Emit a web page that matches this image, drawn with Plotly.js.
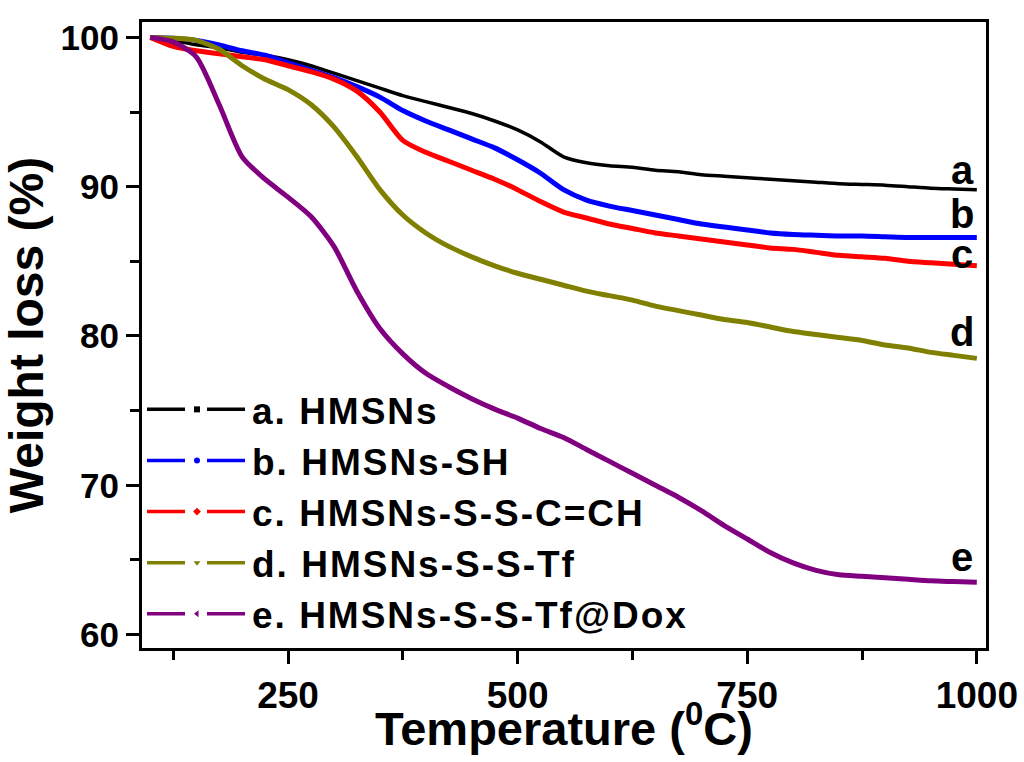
<!DOCTYPE html>
<html>
<head>
<meta charset="utf-8">
<script src="https://cdn.plot.ly/plotly-3.0.1.min.js"></script>
<style>
  html, body { margin: 0; padding: 0; background: #ffffff; }
  #chart { width: 1024px; height: 762px; }
  /* slightly wider legend lettering; keep the widened text unclipped */
  #chart .legendtext { letter-spacing: 2px; }
  #chart g.legend g.scrollbox { clip-path: none !important; }
</style>
</head>
<body>
<div id="chart"></div>
<script>
// TGA curves: temperature (°C) vs remaining weight (%)
const temperature = [100,125,150,175,200,225,250,275,300,325,350,375,400,425,450,475,500,525,550,575,600,625,650,675,700,725,750,775,800,825,850,875,900,925,950,975,1000];

const hmsns = [100.0,99.8,99.5,99.3,99.0,98.8,98.5,98.1,97.6,97.1,96.6,96.1,95.7,95.3,94.9,94.4,93.8,93.0,92.0,91.6,91.4,91.3,91.1,91.0,90.8,90.7,90.6,90.5,90.4,90.3,90.2,90.15,90.1,90.0,89.9,89.85,89.8];
const hmsnsSH = [100.0,99.95,99.8,99.5,99.1,98.8,98.3,97.8,97.3,96.7,96.0,95.1,94.4,93.8,93.2,92.6,91.8,90.9,89.8,89.1,88.7,88.4,88.1,87.8,87.5,87.3,87.1,86.9,86.8,86.75,86.7,86.7,86.65,86.6,86.6,86.6,86.6];
const hmsnsSSC = [100.0,99.4,99.1,98.9,98.7,98.5,98.1,97.7,97.2,96.4,95.0,93.1,92.3,91.7,91.1,90.5,89.8,89.0,88.3,87.9,87.5,87.2,86.9,86.7,86.5,86.3,86.1,85.9,85.8,85.6,85.4,85.3,85.2,85.0,84.9,84.8,84.7];
const hmsnsSSTf = [100.0,99.95,99.8,99.2,98.1,97.2,96.5,95.5,94.0,92.0,89.8,88.1,86.9,86.0,85.3,84.7,84.2,83.8,83.4,83.0,82.7,82.4,82.0,81.7,81.4,81.1,80.9,80.6,80.3,80.1,79.9,79.7,79.4,79.2,78.9,78.7,78.5];
const hmsnsSSTfDox = [100.0,99.7,98.7,95.5,92.0,90.5,89.3,88.0,86.0,83.0,80.5,78.8,77.5,76.6,75.8,75.1,74.5,73.8,73.2,72.4,71.6,70.8,70.0,69.2,68.3,67.3,66.4,65.5,64.8,64.3,64.0,63.9,63.8,63.7,63.6,63.55,63.5];

const seriesNames = ['a. HMSNs','b. HMSNs-SH','c. HMSNs-S-S-C=CH','d. HMSNs-S-S-Tf','e. HMSNs-S-S-Tf@Dox'];
const seriesValues = [hmsns, hmsnsSH, hmsnsSSC, hmsnsSSTf, hmsnsSSTfDox];
const seriesColors = ['#000000','#0000ff','#ff0000','#808000','#800080'];
const seriesSymbols = ['square','circle','diamond','triangle-down','triangle-left'];
const seriesWidths = [3.5,5,5,5,5];
const curveLetters = ['a','b','c','d','e'];
const letterY = [91.1, 88.15, 85.5, 80.25, 65.2];

const FONT = 'Arial, "Liberation Sans", sans-serif';

const traces = [];
// curves
seriesValues.forEach((vals, i) => {
  traces.push({
    x: temperature, y: vals, type: 'scatter', mode: 'lines',
    line: {color: seriesColors[i], width: seriesWidths[i], shape: 'spline', smoothing: 0.7},
    showlegend: false, hoverinfo: 'skip'
  });
});
// legend keys (dash – symbol – dash)
seriesNames.forEach((name, i) => {
  traces.push({
    x: [null], y: [null], type: 'scatter', mode: 'lines+markers', name: name,
    line: {color: seriesColors[i], width: 3.5, dash: '38px,22px'},
    marker: {color: seriesColors[i], symbol: seriesSymbols[i], size: 6},
    hoverinfo: 'skip'
  });
});

const annotations = curveLetters.map((t, i) => ({
  x: 984, y: letterY[i], xref: 'x', yref: 'y', text: t, showarrow: false,
  xanchor: 'center', yanchor: 'middle',
  font: {family: FONT, size: 40, color: '#000000', weight: 'bold'}
}));
// x-axis title, set just under the tick labels
annotations.push({
  x: 0.5, y: -0.123, xref: 'paper', yref: 'paper', showarrow: false,
  xanchor: 'center', yanchor: 'middle',
  text: 'Temperature (<sup>0</sup>C)',
  font: {family: FONT, size: 47, color: '#000000', weight: 'bold'}
});

const layout = {
  width: 1024, height: 762,
  margin: {l: 142, r: 38, t: 22, b: 114},
  paper_bgcolor: '#ffffff', plot_bgcolor: '#ffffff',
  font: {family: FONT, color: '#000000'},
  showlegend: true,
  legend: {
    x: 0.0, y: 0.43, xanchor: 'left', yanchor: 'top',
    bgcolor: 'rgba(0,0,0,0)', borderwidth: 0,
    itemwidth: 100,
    font: {family: FONT, size: 37, color: '#000000', weight: 'bold'}
  },
  xaxis: {
    range: [91, 1010], tick0: 0, dtick: 250,
    showline: true, linewidth: 3, linecolor: '#000000', mirror: true,
    ticks: 'outside', ticklen: 13, tickwidth: 3, tickcolor: '#000000',
    minor: {dtick: 125, ticks: 'outside', ticklen: 9, tickwidth: 3, tickcolor: '#000000'},
    showgrid: false, zeroline: false,
    tickfont: {family: FONT, size: 37, color: '#000000', weight: 'bold'}
  },
  yaxis: {
    range: [59.1, 101.03], tick0: 0, dtick: 10,
    showline: true, linewidth: 3, linecolor: '#000000', mirror: true,
    ticks: 'outside', ticklen: 13, tickwidth: 3, tickcolor: '#000000',
    minor: {dtick: 5, ticks: 'outside', ticklen: 9, tickwidth: 3, tickcolor: '#000000'},
    showgrid: false, zeroline: false,
    tickfont: {family: FONT, size: 35, color: '#000000', weight: 'bold'},
    title: {text: 'Weight loss (%)', standoff: 8,
            font: {family: FONT, size: 48, color: '#000000', weight: 'bold'}}
  },
  annotations: annotations
};

Plotly.newPlot('chart', traces, layout, {displayModeBar: false, staticPlot: true});
</script>
</body>
</html>
